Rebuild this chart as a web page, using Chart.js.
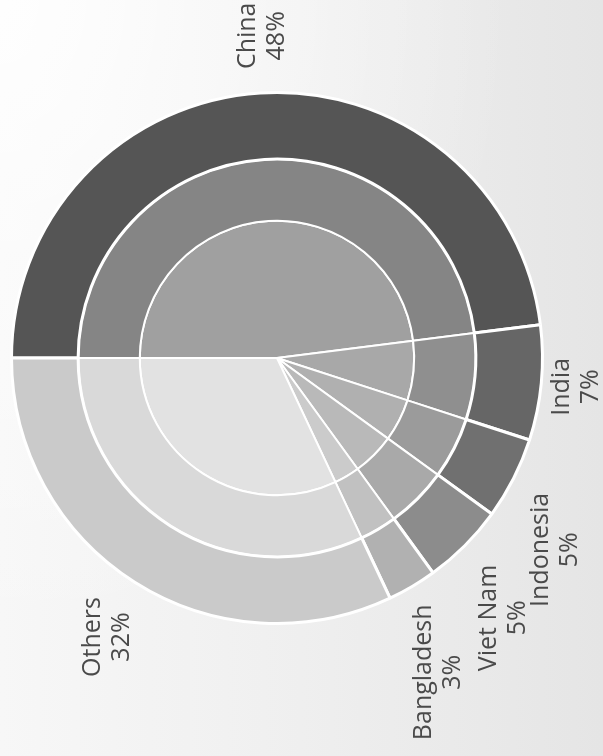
<!DOCTYPE html>
<html>
<head>
<meta charset="utf-8">
<script src="https://cdn.jsdelivr.net/npm/chart.js@4/dist/chart.umd.min.js"></script>
<style>
  html, body { margin: 0; padding: 0; }
  body {
    width: 603px; height: 756px; overflow: hidden;
    background:
      radial-gradient(ellipse at 0% 0%, rgba(255,255,255,0.9) 0%, rgba(255,255,255,0) 60%),
      linear-gradient(to right, #f7f7f7 0%, #efefef 50%, #e5e5e5 100%);
  }
  #wrap { position: relative; width: 603px; height: 756px; }
</style>
</head>
<body>
<div id="wrap"><canvas id="pieChart" width="603" height="756"></canvas></div>
<script>
const countries = ['China', 'India', 'Indonesia', 'Viet Nam', 'Bangladesh', 'Others'];
const shares = [48, 7, 5, 5, 3, 32];

// three rings, outside to inside, each a lighter shade
const outerShades  = ['#555555', '#666666', '#707070', '#8c8c8c', '#b1b1b1', '#cacaca'];
const middleShades = ['#858585', '#8f8f8f', '#9b9b9b', '#a9a9a9', '#c1c1c1', '#d9d9d9'];
const innerShades  = ['#a0a0a0', '#a8a8a8', '#b0b0b0', '#b9b9b9', '#cbcbcb', '#e2e2e2'];

// labels sit outside each slice, text turned to read upward
const sliceLabels = {
    id: 'sliceLabels',
    afterDatasetsDraw(chart, args, opts) {
        const ctx = chart.ctx;
        const arcs = chart.getDatasetMeta(0).data;
        ctx.save();
        ctx.font = opts.font;
        ctx.fillStyle = opts.color;
        ctx.textAlign = 'center';
        ctx.textBaseline = 'middle';
        arcs.forEach((arc, i) => {
            const p = arc.getProps(['x', 'y', 'startAngle', 'endAngle', 'outerRadius']);
            const mid = (p.startAngle + p.endAngle) / 2;
            const dx = Math.cos(mid), dy = Math.sin(mid);
            const lines = [countries[i], shares[i] + '%'];
            const len = Math.max(...lines.map(t => ctx.measureText(t).width));
            const halfW = lines.length * opts.lineHeight / 2 - 4;
            const halfH = len / 2;
            const r = p.outerRadius + opts.gap;
            const nudge = opts.nudge[countries[i]] || [0, 0];
            const cx = p.x + dx * r + dx * halfW + nudge[0];
            const cy = p.y + dy * r + dy * halfH + nudge[1];
            ctx.save();
            ctx.translate(cx, cy);
            ctx.rotate(-Math.PI / 2);
            lines.forEach((t, k) => {
                ctx.fillText(t, 0, (k - (lines.length - 1) / 2) * opts.lineHeight);
            });
            ctx.restore();
        });
        ctx.restore();
    }
};

const ctx = document.getElementById('pieChart').getContext('2d');
const myChart = new Chart(ctx, {
    type: 'pie',
    data: {
        labels: countries,
        datasets: [
            { data: shares, backgroundColor: outerShades, weight: 67, borderWidth: 3 },
            { data: shares, backgroundColor: middleShades, weight: 62 },
            { data: shares, backgroundColor: innerShades, weight: 138 }
        ]
    },
    options: {
        responsive: false,
        animation: false,
        events: [],
        rotation: -90,
        layout: { padding: { left: 10, right: 59, top: 91, bottom: 131 } },
        elements: {
            arc: { borderColor: '#ffffff', borderWidth: 2 }
        },
        plugins: {
            legend: { display: false },
            tooltip: { enabled: false },
            sliceLabels: {
                font: '25px "Open Sans"',
                color: '#4a4a4a',
                lineHeight: 29,
                gap: 12,
                nudge: {
                    'China': [4, -12],
                    'India': [-2, 0],
                    'Indonesia': [9, 40],
                    'Viet Nam': [12, 26],
                    'Bangladesh': [7, 17],
                    'Others': [-8, 11]
                }
            }
        }
    },
    plugins: [sliceLabels]
});
</script>
</body>
</html>
